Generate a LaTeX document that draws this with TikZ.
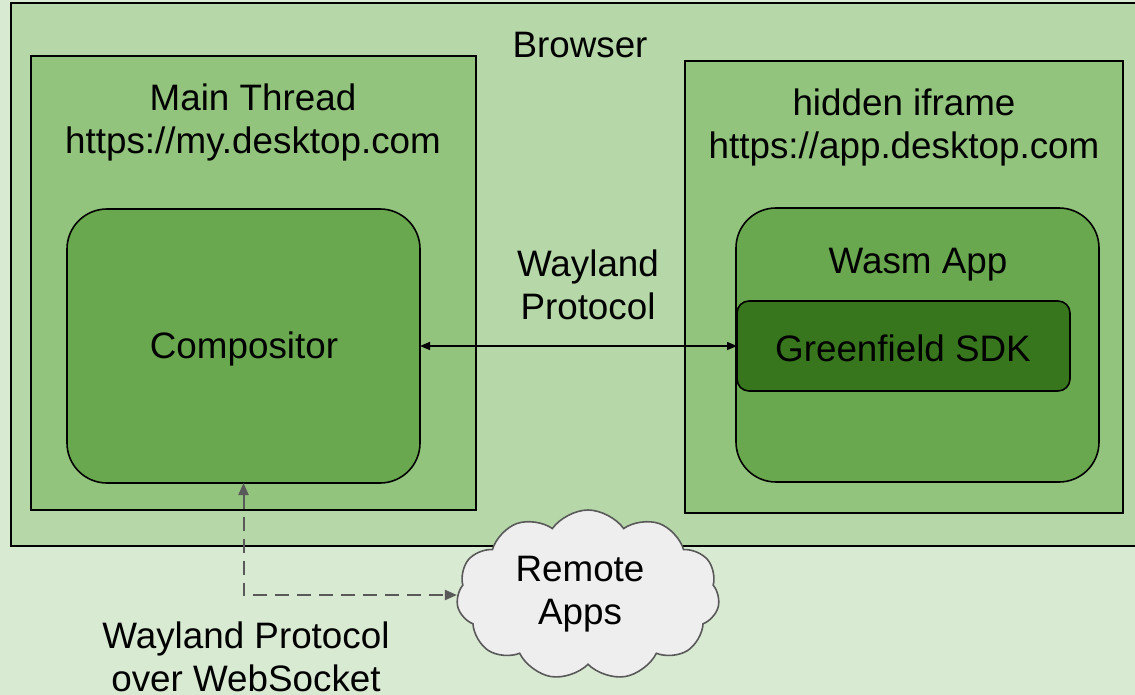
\documentclass[tikz,border=0pt]{standalone}
\usepackage{fontspec}
\setmainfont{Liberation Sans}
\usetikzlibrary{arrows.meta,shapes.symbols}
\definecolor{bgc}{HTML}{D9EAD3}
\definecolor{brc}{HTML}{B6D7A8}
\definecolor{thc}{HTML}{93C47D}
\definecolor{cmc}{HTML}{6AA84F}
\definecolor{sdc}{HTML}{38761D}
\definecolor{clc}{HTML}{EEEEEE}
\definecolor{gry}{HTML}{595959}
\tikzset{
  box/.style={draw=black, line width=1.6pt, inner sep=0pt, outer sep=0pt},
  txt/.style={font=\fontsize{36.8}{43}\selectfont, align=center, inner sep=0pt, text=black},
}
\begin{document}
\begin{tikzpicture}[x=1pt,y=-1pt]
\useasboundingbox[fill=bgc] (0,0) rectangle (1135,695);
\node[box, fill=brc, minimum width=1150pt, minimum height=543pt] (browser) at (586,274.5) {};
\node[box, fill=thc, minimum width=445pt, minimum height=454pt] (main) at (253.5,283) {};
\node[box, fill=thc, minimum width=438pt, minimum height=452pt] (iframe) at (904,287) {};
\node[box, fill=cmc, rounded corners=40pt, minimum width=353pt, minimum height=274pt] (comp) at (243.5,346) {};
\node[box, fill=cmc, rounded corners=40pt, minimum width=363pt, minimum height=274pt] (wasm) at (917.5,345) {};
\node[box, fill=sdc, rounded corners=12pt, minimum width=333pt, minimum height=90pt] (sdk) at (903.5,346) {};
\node[txt] (tcomp) at (244,349) {Compositor};
\node[txt] (tsdk) at (903,348.5) {Greenfield SDK};
\node[txt] (tbrowser) at (580,45) {Browser};
\node[txt] (tmain) at (253,122.5) {Main Thread\\https://my.desktop.com};
\node[txt] (tiframe) at (904,127) {hidden iframe\\https://app.desktop.com};
\node[txt] (twasm) at (918,265) {Wasm App};
\node[txt] (twl) at (588,284.5) {Wayland\\Protocol};
\node[cloud, cloud puffs=11, cloud puff arc=110, aspect=1.6, draw=gry, line width=1.6pt, fill=clc, minimum width=263pt, minimum height=170pt, inner sep=0pt] (cloud) at (588,595) {};
\node[txt] (tcloud) at (580,594) {Remote\\Apps};
\node[txt] (tws) at (246,657) {Wayland Protocol\\over WebSocket};
\draw[line width=1.3pt, {Triangle[length=10pt,width=8pt]}-{Triangle[length=10pt,width=8pt]}] (comp.east) -- (sdk.west);
\draw[draw=gry, line width=2pt, dash pattern=on 14pt off 8pt, {Triangle[length=12pt,width=10pt]}-{Triangle[length=12pt,width=10pt]}] (comp.south) |- (cloud.west);
\end{tikzpicture}
\end{document}
